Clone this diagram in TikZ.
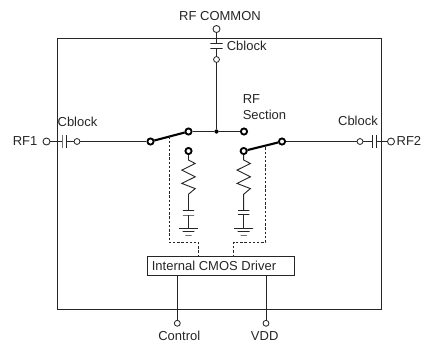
\documentclass[tikz,border=0pt]{standalone}
\usepackage{fontspec}
\setmainfont{Liberation Sans}
\tikzset{
    wire/.style={line width=0.65pt, black!85},
    heavy/.style={line width=1.5pt, black},
    ctrl/.style={line width=0.6pt, black!85, dash pattern=on 1.7pt off 1.3pt},
    lbl/.style={inner sep=0pt, text=black!85, font=\fontsize{9.25}{11}\selectfont},
    port/.style={circle, draw=black!85, line width=0.6pt, fill=white, inner sep=0pt, minimum size=5pt},
    smallport/.style={port, minimum size=4.2pt},
    pole/.style={circle, draw=black, line width=1.3pt, fill=white, inner sep=0pt, minimum size=4.4pt},
    joint/.style={circle, fill=black, inner sep=0pt, minimum size=3pt},
    vplate/.style={draw=black!85, line width=0.65pt, inner sep=0pt, minimum width=0pt, minimum height=9pt},
    hplate/.style={draw=black!85, line width=0.65pt, inner sep=0pt, minimum height=0pt, minimum width=#1},
}
\begin{document}
\begin{tikzpicture}[x=0.025cm, y=-0.025cm]
    \useasboundingbox (0,0) rectangle (422,343);

    \draw[wire] (57,38) rectangle (381.5,309);

    \node[port] (common) at (216.5,29) {};
    \node[hplate=8.6pt] (topa) at (216.5,43.7) {};
    \node[hplate=8.6pt] (topb) at (216.5,48.7) {};
    \node[smallport] (topin) at (216.5,59.5) {};
    \node[joint] (tee) at (216.5,131.5) {};
    \node[pole] (lthrow) at (188.5,131.5) {};
    \node[pole] (rthrow) at (244,131.5) {};
    \node[pole] (lpole) at (150.5,141.5) {};
    \node[pole] (rpole) at (282,141.5) {};
    \node[pole] (lshunt) at (188.5,151) {};
    \node[pole] (rshunt) at (243.7,151) {};

    \node[port] (rfone) at (46.5,141.5) {};
    \node[vplate] (lcapa) at (62,141.5) {};
    \node[vplate] (lcapb) at (66.5,141.5) {};
    \node[smallport] (lin) at (77,141.5) {};
    \node[smallport] (rin) at (360,141.5) {};
    \node[vplate] (rcapa) at (372.5,141.5) {};
    \node[vplate] (rcapb) at (376.5,141.5) {};
    \node[port] (rftwo) at (391,141.5) {};

    \draw[wire] (common) -- (topa);
    \draw[wire] (topb) -- (topin);
    \draw[wire] (topin) -- (tee);
    \draw[wire] (lthrow) -- (tee);
    \draw[wire] (tee) -- (rthrow);
    \draw[wire] (rfone) -- (lcapa);
    \draw[wire] (lcapb) -- (lin);
    \draw[wire] (lin) -- (lpole);
    \draw[wire] (rpole) -- (rin);
    \draw[wire] (rin) -- (rcapa);
    \draw[wire] (rcapb) -- (rftwo);
    \draw[heavy] (lpole) -- (lthrow);
    \draw[heavy] (rpole) -- (rshunt);

    \node[hplate=8pt] (lshcapa) at (188.5,210.7) {};
    \node[hplate=8pt] (lshcapb) at (188.5,215) {};
    \node[hplate=13.5pt] (lgnda) at (188.5,228.3) {};
    \node[hplate=8.5pt] (lgndb) at (188.5,231.7) {};
    \node[hplate=4.5pt] (lgndc) at (188.5,235) {};
    \draw[wire] (lshunt) -- ++(0,9) -- ++(6.7,3.5) -- ++(-13.4,6.6) -- ++(13.4,6.7)
        -- ++(-13.4,6.6) -- ++(13.4,5.2) -- ++(-6.7,5.6) -- (lshcapa);
    \draw[wire] (lshcapb) -- (lgnda);

    \node[hplate=8pt] (rshcapa) at (243.7,210.7) {};
    \node[hplate=8pt] (rshcapb) at (243.7,214.5) {};
    \node[hplate=13.5pt] (rgnda) at (243.7,228.3) {};
    \node[hplate=8.5pt] (rgndb) at (243.7,231.7) {};
    \node[hplate=4.5pt] (rgndc) at (243.7,235) {};
    \draw[wire] (rshunt) -- ++(0,9) -- ++(6.7,3.5) -- ++(-13.4,6.6) -- ++(13.4,6.7)
        -- ++(-13.4,6.6) -- ++(13.4,5.2) -- ++(-6.7,5.6) -- (rshcapa);
    \draw[wire] (rshcapb) -- (rgnda);

    \node[lbl, draw=black!85, line width=0.65pt, minimum width=104pt, minimum height=13.2pt] (driver) at (221,266) {Internal CMOS Driver\kern10pt};
    \node[smallport] (control) at (177.3,323.3) {};
    \node[smallport] (vdd) at (266,323.3) {};
    \draw[wire] (driver.south -| control) -- (control);
    \draw[wire] (driver.south -| vdd) -- (vdd);

    \coordinate (ltap) at (169.3,136.3);
    \coordinate (rtap) at (265.7,147.3);
    \draw[ctrl] (ltap) -- (169.3,242.3) -| (driver.north -| 198.7,0);
    \draw[ctrl] (rtap) -- (265.7,242.3) -| (driver.north -| 233.7,0);

    \node[lbl] (commonlbl) at (220,16) {RF COMMON};
    \node[lbl, anchor=west] (topcap) at (226.5,45.5) {Cblock};
    \node[lbl] (lcaplbl) at (77.5,121.7) {Cblock};
    \node[lbl] (rcaplbl) at (358,120.5) {Cblock};
    \node[lbl, anchor=west] (rflbl) at (242.5,99) {RF};
    \node[lbl, anchor=west] (seclbl) at (242.5,114.5) {Section};
    \node[lbl, anchor=west] (onelbl) at (12.5,141) {RF1};
    \node[lbl, anchor=east] (twolbl) at (421.5,141) {RF2};
    \node[lbl] (ctllbl) at (179.3,336.3) {Control};
    \node[lbl] (vddlbl) at (264.7,336) {VDD};
\end{tikzpicture}
\end{document}
